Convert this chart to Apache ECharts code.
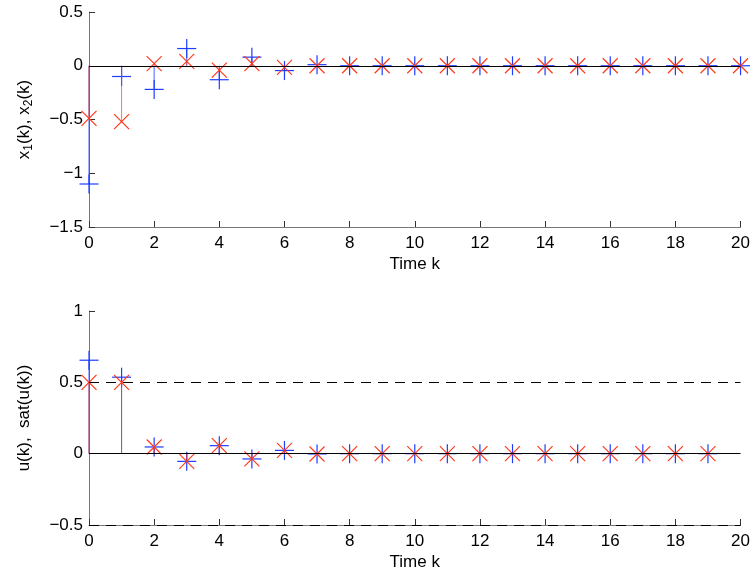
<!DOCTYPE html>
<html>
<head>
<meta charset="utf-8">
<script src="https://cdn.jsdelivr.net/npm/echarts@6/dist/echarts.min.js"></script>
<style>
  html, body { margin: 0; padding: 0; background: #fff; }
  #chart { width: 753px; height: 579px; }
</style>
</head>
<body>
<div id="chart"></div>
<script>
// time steps
const kTop = [0, 1, 2, 3, 4, 5, 6, 7, 8, 9, 10, 11, 12, 13, 14, 15, 16, 17, 18, 19, 20];
const kBottom = [0, 1, 2, 3, 4, 5, 6, 7, 8, 9, 10, 11, 12, 13, 14, 15, 16, 17, 18, 19];

// states
const x1 = [-1.10, -0.10, -0.22, 0.16, -0.13, 0.08, -0.045, 0.01, 0, 0, 0, 0, 0, 0, 0, 0, 0, 0, 0, 0, 0];
const x2 = [-0.49, -0.52, 0.02, 0.04, -0.04, 0.02, -0.015, 0, 0, 0, 0, 0, 0, 0, 0, 0, 0, 0, 0, 0, 0];

// input and saturated input
const u = [0.655, 0.536, 0.047, -0.054, 0.056, -0.037, 0.023, -0.002, 0, 0, 0, 0, 0, 0, 0, 0, 0, 0, 0, 0];
const satU = [0.5, 0.5, 0.047, -0.054, 0.056, -0.037, 0.023, -0.002, 0, 0, 0, 0, 0, 0, 0, 0, 0, 0, 0, 0];

const satLimit = 0.5;

const BLUE = '#1f3cff';
const RED = '#ff3a1c';
const FONT = 'Liberation Sans, Arial, Helvetica, sans-serif';
const FS = 17;

const minus = v => String(v).replace('-', '\u2212');

// stem with a "+" or "x" marker at the tip
function stem(shape, color, half, stemOpacity) {
  return function (params, api) {
    const x = api.value(0);
    const y = api.value(1);
    const p = api.coord([x, y]);
    const b = api.coord([x, 0]);
    const kids = [{
      type: 'line',
      shape: { x1: b[0], y1: b[1], x2: p[0], y2: p[1] },
      style: { stroke: color, lineWidth: 1, opacity: stemOpacity }
    }];
    if (shape === 'plus') {
      kids.push({ type: 'line', shape: { x1: p[0] - half, y1: p[1], x2: p[0] + half, y2: p[1] }, style: { stroke: color, lineWidth: 1.2 } });
      kids.push({ type: 'line', shape: { x1: p[0], y1: p[1] - half, x2: p[0], y2: p[1] + half }, style: { stroke: color, lineWidth: 1.2 } });
    } else {
      kids.push({ type: 'line', shape: { x1: p[0] - half, y1: p[1] - half, x2: p[0] + half, y2: p[1] + half }, style: { stroke: color, lineWidth: 1.2 } });
      kids.push({ type: 'line', shape: { x1: p[0] - half, y1: p[1] + half, x2: p[0] + half, y2: p[1] - half }, style: { stroke: color, lineWidth: 1.2 } });
    }
    return { type: 'group', children: kids };
  };
}

const xAxisBase = (gi) => ({
  type: 'value',
  gridIndex: gi,
  min: 0, max: 20, interval: 2,
  name: 'Time k',
  nameLocation: 'middle',
  nameGap: 29,
  nameTextStyle: { fontFamily: FONT, fontSize: FS, color: '#000' },
  axisLine: { onZero: false, lineStyle: { color: '#777', width: 1 } },
  axisTick: { inside: true, length: 6, lineStyle: { color: '#333' } },
  axisLabel: { fontFamily: FONT, fontSize: FS, color: '#000', margin: 8 },
  splitLine: { show: false }
});

const yAxisBase = (gi, min, max, name, rich) => ({
  type: 'value',
  gridIndex: gi,
  min: min, max: max, interval: 0.5,
  name: name,
  nameLocation: 'middle',
  nameGap: 56,
  nameTextStyle: { fontFamily: FONT, fontSize: FS, color: '#000', rich: rich },
  axisLine: { onZero: false, lineStyle: { color: '#777', width: 1 } },
  axisTick: { inside: true, length: 6, lineStyle: { color: '#333' } },
  axisLabel: { fontFamily: FONT, fontSize: FS, color: '#000', margin: 6, formatter: minus },
  splitLine: { show: false }
});

const subRich = {
  n: { fontFamily: FONT, fontSize: FS, lineHeight: 17, color: '#000' },
  s: { fontFamily: FONT, fontSize: 12, lineHeight: 12, padding: [9, 0, 0, 0], color: '#000' }
};

const zeroLine = {
  silent: true,
  symbol: 'none',
  label: { show: false },
  lineStyle: { color: '#000', width: 1, type: 'solid' },
  data: [{ yAxis: 0 }]
};

const satLines = {
  silent: true,
  symbol: 'none',
  label: { show: false },
  lineStyle: { color: '#000', width: 1, type: [10, 7] },
  data: [{ yAxis: satLimit }, { yAxis: -satLimit }]
};

const chart = echarts.init(document.getElementById('chart'));

chart.setOption({
  animation: false,
  backgroundColor: '#fff',
  grid: [
    { left: 89, right: 12, top: 12, height: 215 },
    { left: 89, right: 12, top: 311, height: 214 }
  ],
  xAxis: [xAxisBase(0), xAxisBase(1)],
  yAxis: [
    yAxisBase(0, -1.5, 0.5, '{n|x}{s|1}{n|(k), x}{s|2}{n|(k)}', subRich),
    yAxisBase(1, -0.5, 1, 'u(k),  sat(u(k))', subRich)
  ],
  series: [
    {
      type: 'custom', xAxisIndex: 0, yAxisIndex: 0, z: 2,
      data: kTop.map((k, i) => [k, x1[i]]),
      renderItem: stem('plus', BLUE, 9.5, 0.8),
      markLine: zeroLine
    },
    {
      type: 'custom', xAxisIndex: 0, yAxisIndex: 0, z: 3,
      data: kTop.map((k, i) => [k, x2[i]]),
      renderItem: stem('cross', RED, 7.5, 0.7)
    },
    {
      type: 'custom', xAxisIndex: 1, yAxisIndex: 1, z: 2,
      data: kBottom.map((k, i) => [k, u[i]]),
      renderItem: stem('plus', BLUE, 9.5, 0.8),
      markLine: zeroLine
    },
    {
      type: 'custom', xAxisIndex: 1, yAxisIndex: 1, z: 3,
      data: kBottom.map((k, i) => [k, satU[i]]),
      renderItem: stem('cross', RED, 7.5, 0.7),
      markLine: satLines
    }
  ]
});
</script>
</body>
</html>
